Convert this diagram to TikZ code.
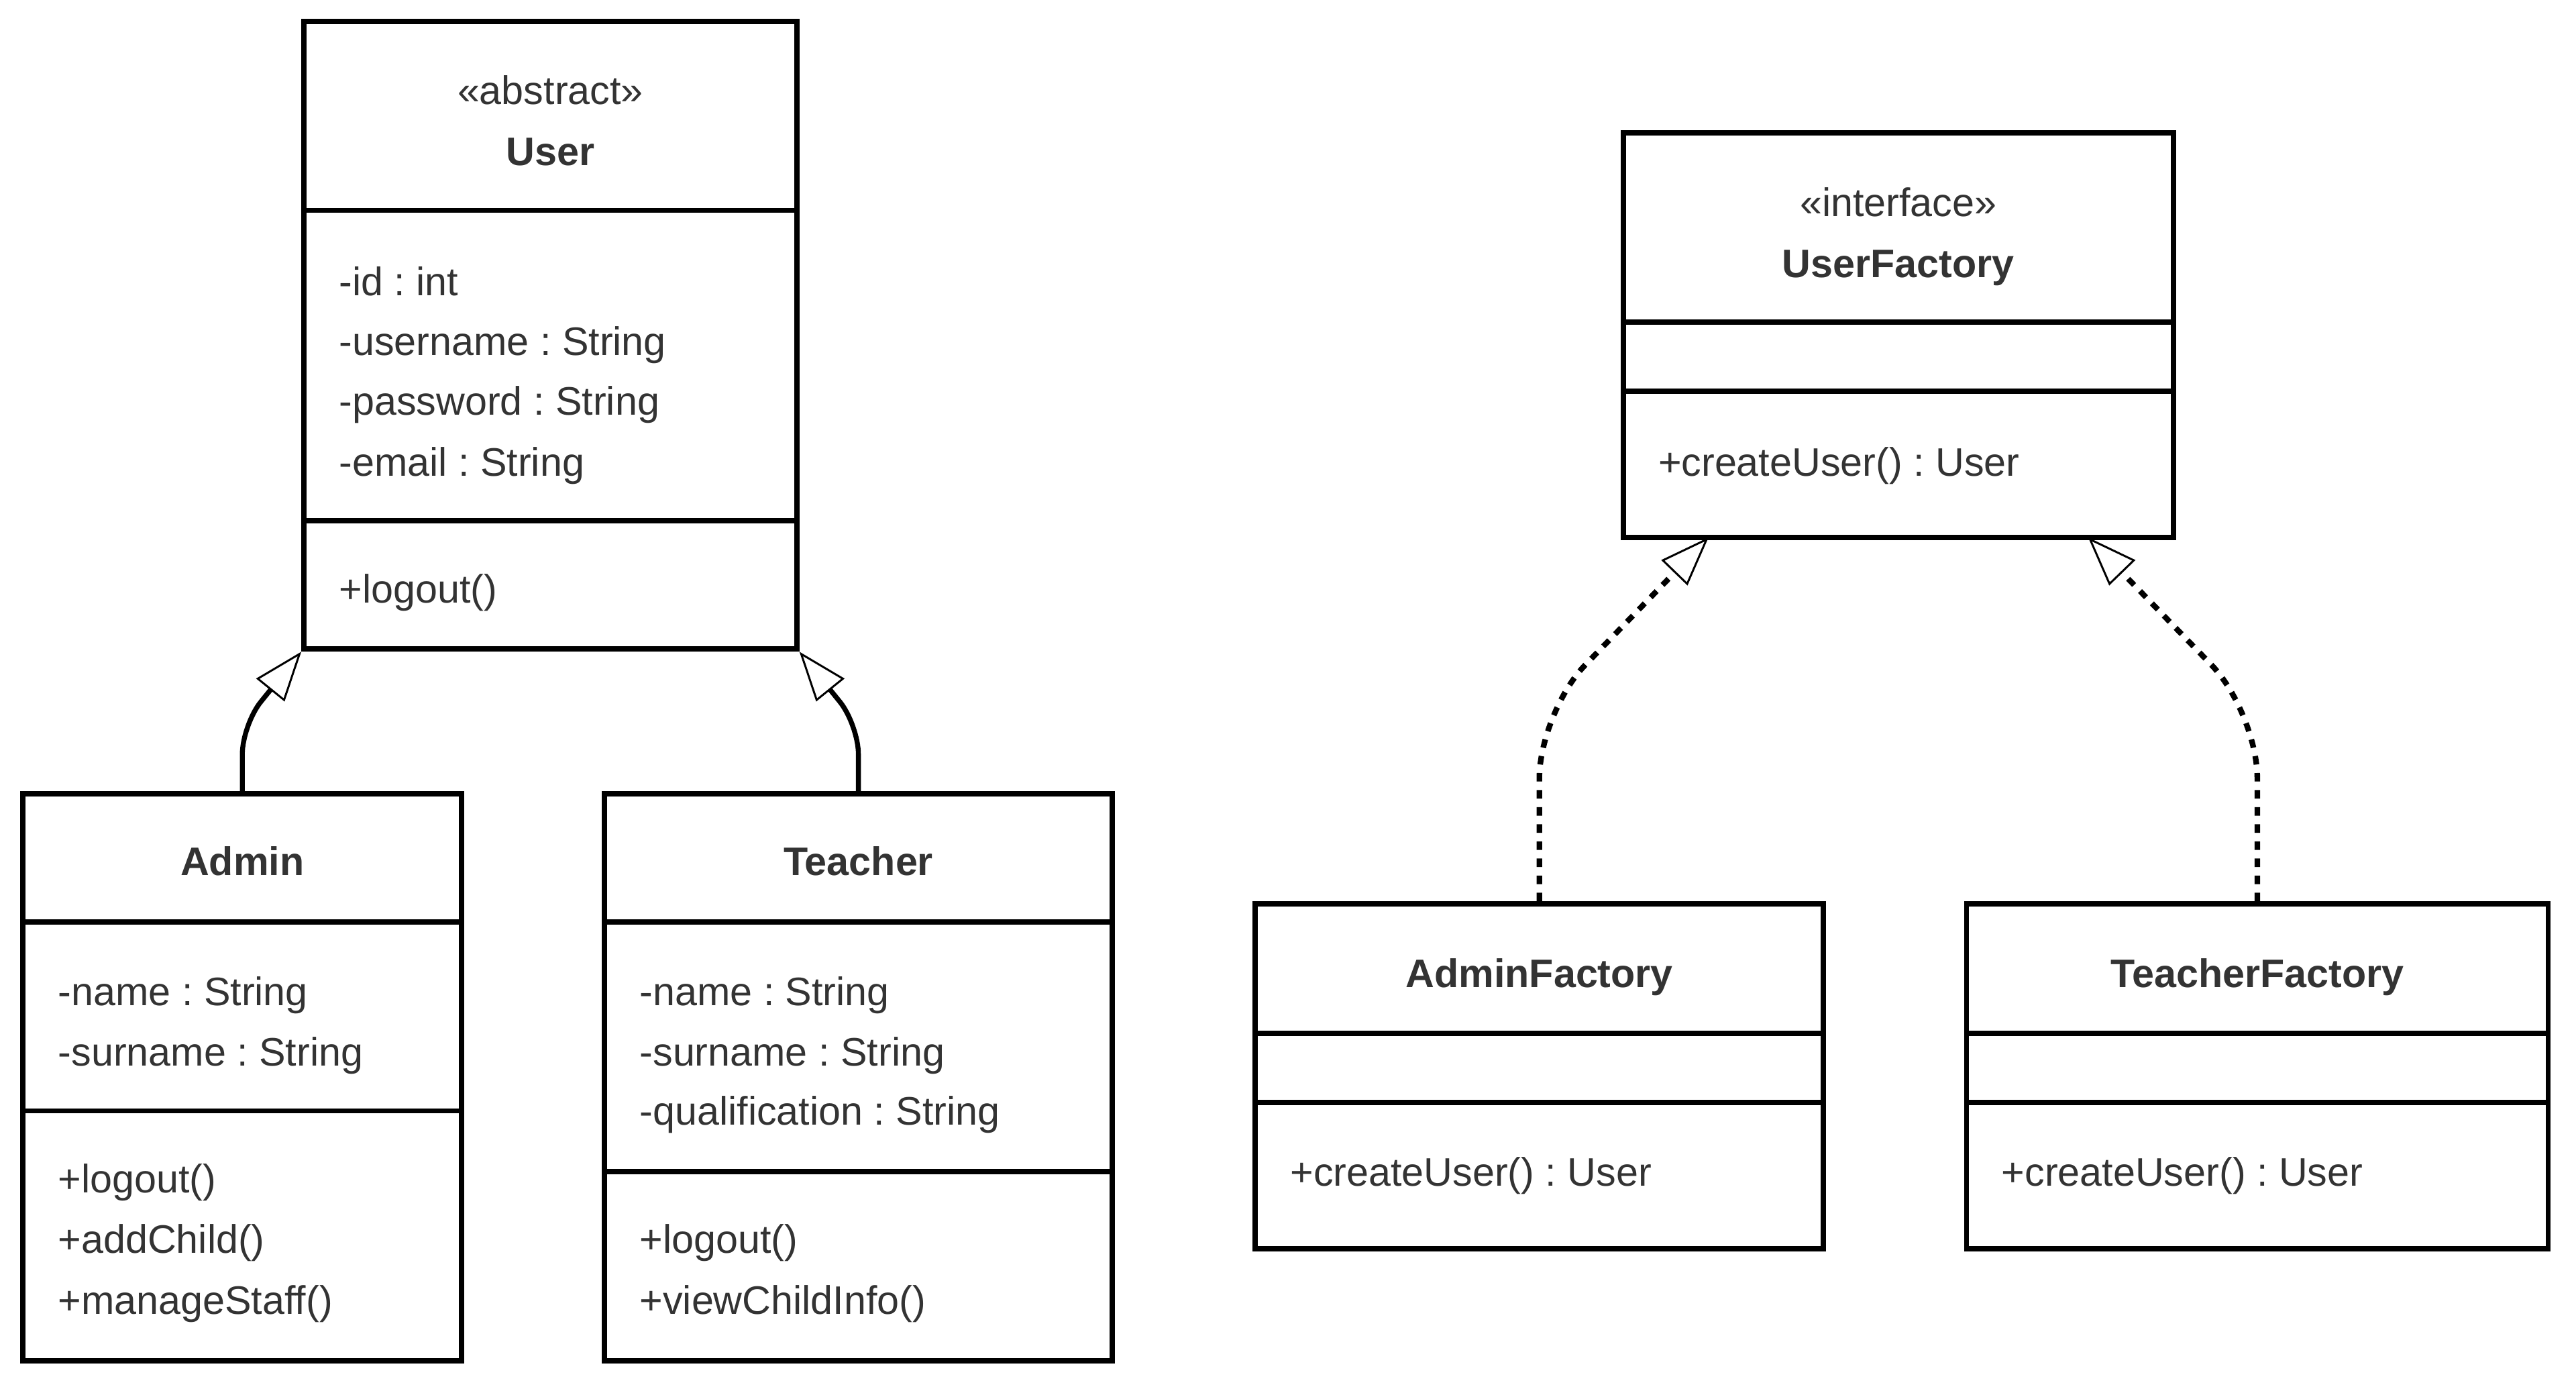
\documentclass[tikz,border=0pt]{standalone}
\usepackage{fontspec}
\setmainfont{Liberation Sans}
\usetikzlibrary{arrows.meta,fit}
\definecolor{txt}{HTML}{333333}
\frenchspacing

\begin{document}
\begin{tikzpicture}[x=0.5pt,y=-0.5pt,
  classbox/.style={draw=black,line width=1.6pt,inner sep=0pt,fill=white},
  divider/.style={draw=black,line width=1.6pt},
  member/.style={anchor=west,inner sep=0pt,text=txt,text height=8.7pt,text depth=0pt,
    font=\fontsize{12.1pt}{14pt}\selectfont},
  title/.style={anchor=center,inner sep=0pt,text=txt,text height=8.7pt,text depth=0pt,
    font=\fontsize{12.1pt}{14pt}\selectfont\bfseries},
  stereo/.style={anchor=center,inner sep=0pt,text=txt,text height=8.7pt,text depth=0pt,
    font=\fontsize{12.1pt}{14pt}\selectfont},
  hollowtip/.style={-{Triangle[length=15pt,width=11pt,fill=white,line width=0.6pt]}},
  inherit/.style={hollowtip,draw=black,line width=1.5pt,rounded corners=9pt},
  realize/.style={hollowtip,draw=black,line width=1.7pt,dash pattern=on 2.6pt off 2.6pt,
    rounded corners=20pt},
]
\useasboundingbox (0,0) rectangle (1568,844);

% ---------- User ----------
\node[classbox,fit={(185,13)(485,395)}] (User) {};
\draw[divider] (185,128) -- (485,128);
\draw[divider] (185,317) -- (485,317);
\node[stereo] (userSt) at (335,55) {«abstract»};
\node[title] (userName) at (335,92) {User};
\node[member] (userA1) at (206,171) {-id : int};
\node[member] (userA2) at (206,207.5) {-username : String};
\node[member] (userA3) at (206,244) {-password : String};
\node[member] (userA4) at (206,281) {-email : String};
\node[member] (userM1) at (206,358) {+logout()};

% ---------- Admin ----------
\node[classbox,fit={(14,483)(281,828)}] (Admin) {};
\draw[divider] (14,561) -- (281,561);
\draw[divider] (14,676) -- (281,676);
\node[title] (adminName) at (147.5,524) {Admin};
\node[member] (adminA1) at (35,603) {-name : String};
\node[member] (adminA2) at (35,640) {-surname : String};
\node[member] (adminM1) at (35,717) {+logout()};
\node[member] (adminM2) at (35,754) {+addChild()};
\node[member] (adminM3) at (35,791) {+manageStaff()};

% ---------- Teacher ----------
\node[classbox,fit={(368,483)(677,828)}] (Teacher) {};
\draw[divider] (368,561) -- (677,561);
\draw[divider] (368,713) -- (677,713);
\node[title] (teacherName) at (522.5,524) {Teacher};
\node[member] (teacherA1) at (389,603) {-name : String};
\node[member] (teacherA2) at (389,640) {-surname : String};
\node[member] (teacherA3) at (389,676) {-qualification : String};
\node[member] (teacherM1) at (389,754) {+logout()};
\node[member] (teacherM2) at (389,791) {+viewChildInfo()};

% ---------- UserFactory ----------
\node[classbox,fit={(988,81)(1323,327)}] (UserFactory) {};
\draw[divider] (988,196) -- (1323,196);
\draw[divider] (988,238) -- (1323,238);
\node[stereo] (ufSt) at (1155.5,123) {«interface»};
\node[title] (ufName) at (1155.5,160) {UserFactory};
\node[member] (ufM1) at (1009,281) {+createUser() : User};

% ---------- AdminFactory ----------
\node[classbox,fit={(764,550)(1110,760)}] (AdminFactory) {};
\draw[divider] (764,629) -- (1110,629);
\draw[divider] (764,671) -- (1110,671);
\node[title] (afName) at (937,592) {AdminFactory};
\node[member] (afM1) at (785,713) {+createUser() : User};

% ---------- TeacherFactory ----------
\node[classbox,fit={(1197,550)(1551,760)}] (TeacherFactory) {};
\draw[divider] (1197,629) -- (1551,629);
\draw[divider] (1197,671) -- (1551,671);
\node[title] (tfName) at (1374,592) {TeacherFactory};
\node[member] (tfM1) at (1218,713) {+createUser() : User};

% ---------- inheritance ----------
\coordinate (adminBend) at (147.5,441);
\coordinate (teacherBend) at (522.5,441);
\draw[inherit] (Admin.north) -- (adminBend) -- (User.south west);
\draw[inherit] (Teacher.north) -- (teacherBend) -- (User.south east);

% ---------- realization ----------
\coordinate (ufLeftTip) at (1040,327);
\coordinate (ufRightTip) at (1271,327);
\coordinate (afBend) at (937,433.5);
\coordinate (tfBend) at (1374,433.5);
\draw[realize] (AdminFactory.north) -- (afBend) -- (ufLeftTip);
\draw[realize] (TeacherFactory.north) -- (tfBend) -- (ufRightTip);
\end{tikzpicture}
\end{document}
